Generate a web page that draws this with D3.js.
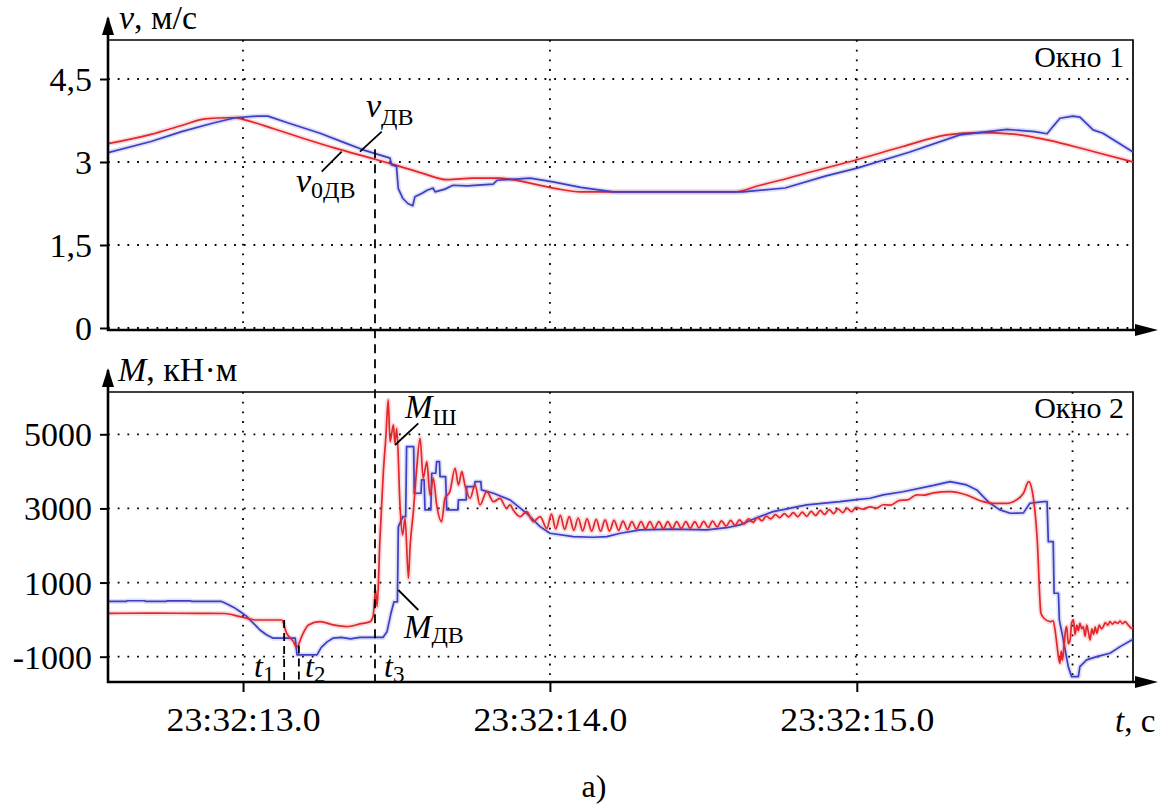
<!DOCTYPE html>
<html>
<head>
<meta charset="utf-8">
<script src="https://cdn.jsdelivr.net/npm/d3@7"></script>
<style>
  html, body { margin: 0; padding: 0; background: #fff; }
  svg { display: block; }
</style>
</head>
<body>
<svg id="chart" width="1169" height="810"></svg>
<script>
// ---- data: time in seconds after 23:32:00 ----
// motor speed reference v0дв, m/s
const speedRef = [
  [12.560, 3.33], [12.700, 3.50], [12.800, 3.66], [12.876, 3.78], [12.950, 3.80],
  [12.974, 3.80], [13.000, 3.77], [13.100, 3.60], [13.200, 3.42], [13.300, 3.25],
  [13.430, 3.05], [13.500, 2.94], [13.583, 2.80], [13.665, 2.68], [13.750, 2.71],
  [13.830, 2.71], [13.900, 2.66], [13.950, 2.60], [14.020, 2.52], [14.100, 2.46],
  [14.600, 2.46], [14.685, 2.58], [14.750, 2.67], [14.850, 2.82], [15.000, 3.04],
  [15.150, 3.28], [15.294, 3.49], [15.400, 3.53], [15.500, 3.51], [15.620, 3.40],
  [15.770, 3.19], [15.900, 3.00]
];
// measured motor speed vдв, m/s
const speedMotor = [
  [12.560, 3.17], [12.700, 3.37], [12.800, 3.55], [12.900, 3.70], [12.974, 3.80],
  [13.049, 3.83], [13.081, 3.83], [13.150, 3.70], [13.251, 3.52], [13.330, 3.35],
  [13.391, 3.22], [13.450, 3.12], [13.479, 3.07], [13.484, 2.95], [13.500, 2.92],
  [13.506, 2.52], [13.521, 2.34], [13.537, 2.25], [13.553, 2.21], [13.560, 2.37],
  [13.582, 2.43], [13.600, 2.49], [13.619, 2.53], [13.626, 2.46], [13.658, 2.51],
  [13.684, 2.58], [13.730, 2.57], [13.815, 2.60], [13.828, 2.67], [13.935, 2.71],
  [14.010, 2.64], [14.100, 2.54], [14.206, 2.46], [14.630, 2.46], [14.766, 2.53],
  [14.900, 2.75], [15.001, 2.89], [15.173, 3.18], [15.336, 3.49], [15.489, 3.59],
  [15.580, 3.55], [15.620, 3.51], [15.639, 3.64], [15.662, 3.79], [15.704, 3.83],
  [15.727, 3.81], [15.770, 3.58], [15.802, 3.52], [15.900, 3.18]
];
// shaft torque Mш, kN·m
const torqueShaft = [
  [12.560, 170], [12.700, 175], [12.850, 170], [12.940, 165], [12.990, 80],
  [13.045, -10], [13.126, -10], [13.142, -367], [13.164, -593], [13.175, -745],
  [13.191, -458], [13.213, -143], [13.251, -54], [13.294, -143], [13.338, -189],
  [13.381, -116], [13.414, -54], [13.424, 100], [13.432, 800], [13.437, 350],
  [13.446, 2150], [13.457, 3949], [13.466, 5000], [13.473, 5927], [13.479, 4802],
  [13.490, 5252], [13.495, 4758], [13.501, 5163], [13.512, 3005], [13.520, 2285],
  [13.528, 2735], [13.539, 1117], [13.544, 1926], [13.555, 2913], [13.566, 4084],
  [13.577, 4893], [13.587, 3814], [13.599, 4262], [13.609, 3364], [13.620, 3814],
  [13.631, 3094], [13.647, 2644], [13.658, 3274], [13.674, 3453], [13.691, 4084],
  [13.702, 3634], [13.713, 3993], [13.723, 3634], [13.740, 3274], [13.756, 3634],
  [13.772, 3094], [13.794, 3453], [13.816, 3183], [13.837, 3274], [13.859, 3005],
  [13.870, 3094], [13.881, 2950], [13.903, 2779], [13.924, 2913], [13.946, 2644],
  [13.968, 2779],
  [13.990, 2460], [14.005, 2845], [14.019, 2450], [14.034, 2815], [14.048, 2435],
  [14.063, 2778], [14.078, 2410], [14.092, 2742], [14.107, 2392], [14.121, 2720],
  [14.136, 2390], [14.151, 2703], [14.165, 2385], [14.180, 2692], [14.194, 2390],
  [14.209, 2680], [14.224, 2410], [14.238, 2660], [14.253, 2428], [14.267, 2645],
  [14.282, 2440], [14.297, 2645], [14.311, 2447], [14.326, 2643], [14.340, 2452],
  [14.355, 2644], [14.370, 2455], [14.384, 2644], [14.399, 2457], [14.413, 2644],
  [14.428, 2462], [14.443, 2643], [14.457, 2467], [14.472, 2645], [14.486, 2474],
  [14.501, 2650], [14.516, 2487], [14.530, 2655], [14.545, 2502], [14.559, 2664],
  [14.574, 2521], [14.589, 2677], [14.603, 2542], [14.618, 2690], [14.632, 2575],
  [14.647, 2722], [14.662, 2622], [14.676, 2755], [14.691, 2668], [14.705, 2790],
  [14.720, 2717], [14.735, 2831], [14.749, 2752], [14.764, 2862], [14.778, 2770],
  [14.793, 2885], [14.808, 2778], [14.822, 2902], [14.837, 2788], [14.851, 2920],
  [14.866, 2812], [14.881, 2945], [14.895, 2838], [14.910, 2968], [14.924, 2862],
  [14.939, 2986], [14.954, 2886], [14.968, 3010], [14.983, 2910], [14.997, 3030],
  [15.020, 2980], [15.043, 3040], [15.065, 3010], [15.086, 3100], [15.110, 3090],
  [15.140, 3220], [15.165, 3230], [15.195, 3364], [15.220, 3360], [15.250, 3420],
  [15.304, 3453], [15.358, 3364], [15.412, 3183], [15.444, 3139], [15.488, 3139],
  [15.510, 3183], [15.543, 3410], [15.560, 3723], [15.575, 3300], [15.588, 2150],
  [15.600, 173], [15.610, 37], [15.630, -54],
  [15.640, -30], [15.646, -278], [15.651, -600], [15.657, -998], [15.662, -1177],
  [15.666, -850], [15.670, -1100], [15.675, -728], [15.680, -300], [15.684, -189],
  [15.689, -650], [15.695, -548], [15.700, -100], [15.706, -8], [15.711, -400],
  [15.717, -150], [15.722, -300], [15.727, -100], [15.733, -250], [15.738, -189],
  [15.744, -450], [15.749, -150], [15.755, -350], [15.760, -548], [15.766, -250],
  [15.771, -400], [15.777, -200], [15.782, -367], [15.790, -150], [15.797, -250],
  [15.803, -189], [15.810, -80], [15.818, -150], [15.825, -54], [15.833, -120],
  [15.841, -60], [15.850, -98], [15.858, -40], [15.866, -110], [15.874, -54],
  [15.885, -150], [15.896, -233], [15.900, -200]
];
// motor torque Mдв, kN·m
const torqueMotor = [
  [12.560, 490], [12.620, 490], [12.622, 510], [12.680, 510], [12.682, 490],
  [12.750, 490], [12.752, 505], [12.830, 505], [12.832, 490], [12.930, 490],
  [12.948, 420], [12.970, 330], [12.990, 220], [13.010, 100], [13.023, -10],
  [13.040, -150], [13.055, -280], [13.075, -400], [13.098, -500], [13.170, -500],
  [13.176, -950], [13.241, -950], [13.255, -750], [13.274, -600], [13.293, -500],
  [13.320, -480], [13.350, -520], [13.381, -480], [13.456, -480], [13.469, -330],
  [13.482, 170], [13.492, 480], [13.503, 480], [13.506, 2500], [13.521, 2780],
  [13.530, 2780], [13.533, 4667], [13.556, 4667], [13.558, 3410], [13.580, 3410],
  [13.582, 3769], [13.590, 3769], [13.593, 2959], [13.612, 2959], [13.615, 3949],
  [13.628, 3949], [13.631, 4262], [13.640, 4262], [13.642, 3858], [13.660, 3858],
  [13.664, 2959], [13.700, 2959], [13.702, 3229], [13.727, 3229], [13.729, 3588],
  [13.754, 3588], [13.756, 3723], [13.775, 3723], [13.777, 3499], [13.816, 3410],
  [13.870, 3229], [13.924, 2870], [13.968, 2509], [14.000, 2331], [14.076, 2239],
  [14.141, 2223], [14.185, 2240], [14.230, 2330], [14.294, 2420], [14.400, 2440],
  [14.511, 2420], [14.576, 2480], [14.619, 2555], [14.660, 2700], [14.700, 2830],
  [14.727, 2913], [14.780, 3000], [14.837, 3094], [14.945, 3183], [15.000, 3240],
  [15.043, 3274], [15.086, 3364], [15.150, 3450], [15.250, 3620], [15.304, 3723],
  [15.358, 3634], [15.391, 3499], [15.412, 3319], [15.434, 3139], [15.467, 2960],
  [15.500, 2870], [15.543, 2880], [15.564, 3139], [15.608, 3183], [15.620, 3183],
  [15.624, 2104], [15.640, 2104], [15.643, 712], [15.657, 712], [15.660, -10],
  [15.673, -548], [15.689, -1268], [15.700, -1538], [15.722, -1538], [15.727, -1268],
  [15.749, -1087], [15.782, -998], [15.825, -908], [15.858, -728], [15.896, -548],
  [15.900, -520]
];
// event instants t1, t2, t3 and the cursor line, s
const eventTimes = [13.134, 13.182, 13.430];
const cursorTime = 15.703;
// axis ticks
const timeTicks = [13, 14, 15];
const speedTicks = [0, 1.5, 3, 4.5];
const torqueTicks = [-1000, 1000, 3000, 5000];

// ---- layout ----
const FONT = '"Liberation Serif"';
const left = 108, right = 1133;
const p1 = { top: 40, bottom: 330 };
const p2 = { top: 392, bottom: 682 };
const RED = "#e3262b", BLUE = "#3b3fc4";

const svg = d3.select("#chart");
const x = d3.scaleLinear().domain([12.56, 15.9]).range([left, right]);
const yV = d3.scaleLinear().domain([0, 4.5]).range([328, 79]);
const yM = d3.scaleLinear().domain([-1000, 5000]).range([656.7, 434.3]);

const defs = svg.append("defs");
[["clip1", p1], ["clip2", p2]].forEach(([id, p]) => {
  defs.append("clipPath").attr("id", id).append("rect")
    .attr("x", left).attr("y", p.top).attr("width", right - left).attr("height", p.bottom - p.top);
});

function dotted(l) {
  return l.attr("stroke", "#000").attr("stroke-width", 1.8).attr("stroke-dasharray", "1.8,7.9");
}
function gridAndFrame(p, yScale, ticks, extraV) {
  const g = svg.append("g");
  ticks.forEach(v => dotted(g.append("line").attr("x1", left).attr("x2", right)
    .attr("y1", yScale(v)).attr("y2", yScale(v))));
  timeTicks.concat(extraV).forEach(t => dotted(g.append("line").attr("x1", x(t)).attr("x2", x(t))
    .attr("y1", p.top).attr("y2", p.bottom)));
  // thin top and right frame edges
  g.append("path").attr("d", `M${left},${p.top}H${right}V${p.bottom}`)
    .attr("fill", "none").attr("stroke", "#000").attr("stroke-width", 1.7);
}
gridAndFrame(p1, yV, speedTicks, []);
gridAndFrame(p2, yM, torqueTicks, [cursorTime]);

// ---- series ----
function drawLine(data, yScale, color, clip, curve) {
  const line = d3.line().x(d => x(d[0])).y(d => yScale(d[1])).curve(curve || d3.curveLinear);
  const g = svg.append("g").attr("clip-path", `url(#${clip})`);
  g.append("path").datum(data).attr("d", line).attr("fill", "none")
    .attr("stroke", color).attr("stroke-opacity", 0.16).attr("stroke-width", 5)
    .attr("stroke-linejoin", "round");
  g.append("path").datum(data).attr("d", line).attr("fill", "none")
    .attr("stroke", color).attr("stroke-width", 1.7).attr("stroke-linejoin", "round");
}
drawLine(speedRef, yV, RED, "clip1", d3.curveMonotoneX);
drawLine(speedMotor, yV, BLUE, "clip1");
drawLine(torqueMotor, yM, BLUE, "clip2");
drawLine(torqueShaft, yM, RED, "clip2", d3.curveMonotoneX);

// ---- event markers ----
function dashed(x0, y0, y1, pattern) {
  svg.append("line").attr("x1", x0).attr("x2", x0).attr("y1", y0).attr("y2", y1)
    .attr("stroke", "#000").attr("stroke-width", 1.8).attr("stroke-dasharray", pattern);
}
dashed(x(eventTimes[2]), yV(3.05) - 10, p2.bottom, "9,6");
dashed(x(eventTimes[0]), yM(-10), p2.bottom, "8,5");
dashed(x(eventTimes[1]), yM(-700), p2.bottom, "8,5");

// ---- axes ----
function yAxis(p, yScale, ticks, fmt) {
  const ax = d3.axisLeft(yScale).tickValues(ticks).tickSize(8).tickPadding(8).tickFormat(fmt);
  const g = svg.append("g").attr("transform", `translate(${left},0)`).call(ax)
    .attr("font-family", "Liberation Serif").attr("font-size", 34);
  g.select(".domain").remove();
  g.selectAll(".tick line").attr("stroke", "#000").attr("stroke-width", 2);
  g.selectAll(".tick text").style("font-family", FONT).style("font-size", "34px")
    .attr("fill", "#000").attr("dy", "0.34em");
  // thick axis line with arrow
  svg.append("line").attr("x1", left).attr("x2", left).attr("y1", p.bottom + 1).attr("y2", p.top - 22)
    .attr("stroke", "#000").attr("stroke-width", 2.6);
  svg.append("path").attr("d", `M${left},${p.top - 24}L${left - 6},${p.top - 5}L${left + 6},${p.top - 5}Z`)
    .attr("fill", "#000");
  // thick bottom line with arrow
  svg.append("line").attr("x1", left - 1).attr("x2", right + 6).attr("y1", p.bottom).attr("y2", p.bottom)
    .attr("stroke", "#000").attr("stroke-width", 2.6);
  svg.append("path").attr("d", `M${right + 25},${p.bottom}L${right + 2},${p.bottom - 6}L${right + 2},${p.bottom + 6}Z`)
    .attr("fill", "#000");
}
yAxis(p1, yV, speedTicks, d => String(d).replace(".", ","));
yAxis(p2, yM, torqueTicks, d => String(d));

const xAx = d3.axisBottom(x).tickValues(timeTicks).tickSize(10).tickPadding(0)
  .tickFormat(d => "23:32:" + d.toFixed(1));
const gx = svg.append("g").attr("transform", `translate(0,${p2.bottom})`).call(xAx)
  .attr("font-family", "Liberation Serif").attr("font-size", 34);
gx.select(".domain").remove();
gx.selectAll(".tick line").attr("stroke", "#000").attr("stroke-width", 2);
gx.selectAll(".tick text").style("font-family", FONT).style("font-size", "34px")
  .attr("fill", "#000").attr("y", 49).attr("dy", 0)
  .attr("textLength", 154).attr("lengthAdjust", "spacingAndGlyphs");

// ---- texts ----
function label(xp, yp, parts, size, anchor) {
  const t = svg.append("text").attr("x", xp).attr("y", yp)
    .attr("font-family", "Liberation Serif").style("font-family", FONT)
    .style("font-size", size + "px")
    .attr("fill", "#000").attr("text-anchor", anchor || "start");
  parts.forEach(pt => {
    const s = t.append("tspan").text(pt.text).style("font-family", FONT);
    if (pt.italic) s.style("font-style", "italic");
    if (pt.sub) s.style("font-size", Math.round(size * 0.72) + "px").attr("dy", pt.dy || 6);
  });
  return t;
}
// axis titles
label(119, 29, [{ text: "v", italic: true }, { text: ", м/с" }], 34);
label(118, 381, [{ text: "M", italic: true }, { text: ", кН·м" }], 34);
label(1115, 732, [{ text: "t", italic: true }, { text: ", с" }], 33);
// window captions
label(1124, 67, [{ text: "Окно 1" }], 30, "end");
label(1124, 418, [{ text: "Окно 2" }], 30, "end");
// curve names
label(366, 117, [{ text: "v", italic: true }, { text: "ДВ", sub: true, dy: 8 }], 34);
label(296, 192, [{ text: "v", italic: true }, { text: "0ДВ", sub: true, dy: 6 }], 34);
label(405, 418, [{ text: "M", italic: true }, { text: "Ш", sub: true, dy: 7 }], 33);
label(404, 638, [{ text: "M", italic: true }, { text: "ДВ", sub: true, dy: 5 }], 33);
// event labels
label(254, 677, [{ text: "t", italic: true }, { text: "1", sub: true, dy: 5 }], 32);
label(305, 677, [{ text: "t", italic: true }, { text: "2", sub: true, dy: 5 }], 32);
label(384, 677, [{ text: "t", italic: true }, { text: "3", sub: true, dy: 5 }], 32);
// leader lines
const leaders = [
  [381.7, 131.7, 360, 151.7],
  [341.7, 151.7, 321.7, 171.7],
  [418.3, 423.3, 395, 445],
  [398.3, 590, 418.3, 610]
];
leaders.forEach(([a, b, c, d]) => svg.append("line")
  .attr("x1", a).attr("y1", b).attr("x2", c).attr("y2", d)
  .attr("stroke", "#000").attr("stroke-width", 1.8));
// figure caption
label(594, 797, [{ text: "а)" }], 32, "middle");
</script>
</body>
</html>
